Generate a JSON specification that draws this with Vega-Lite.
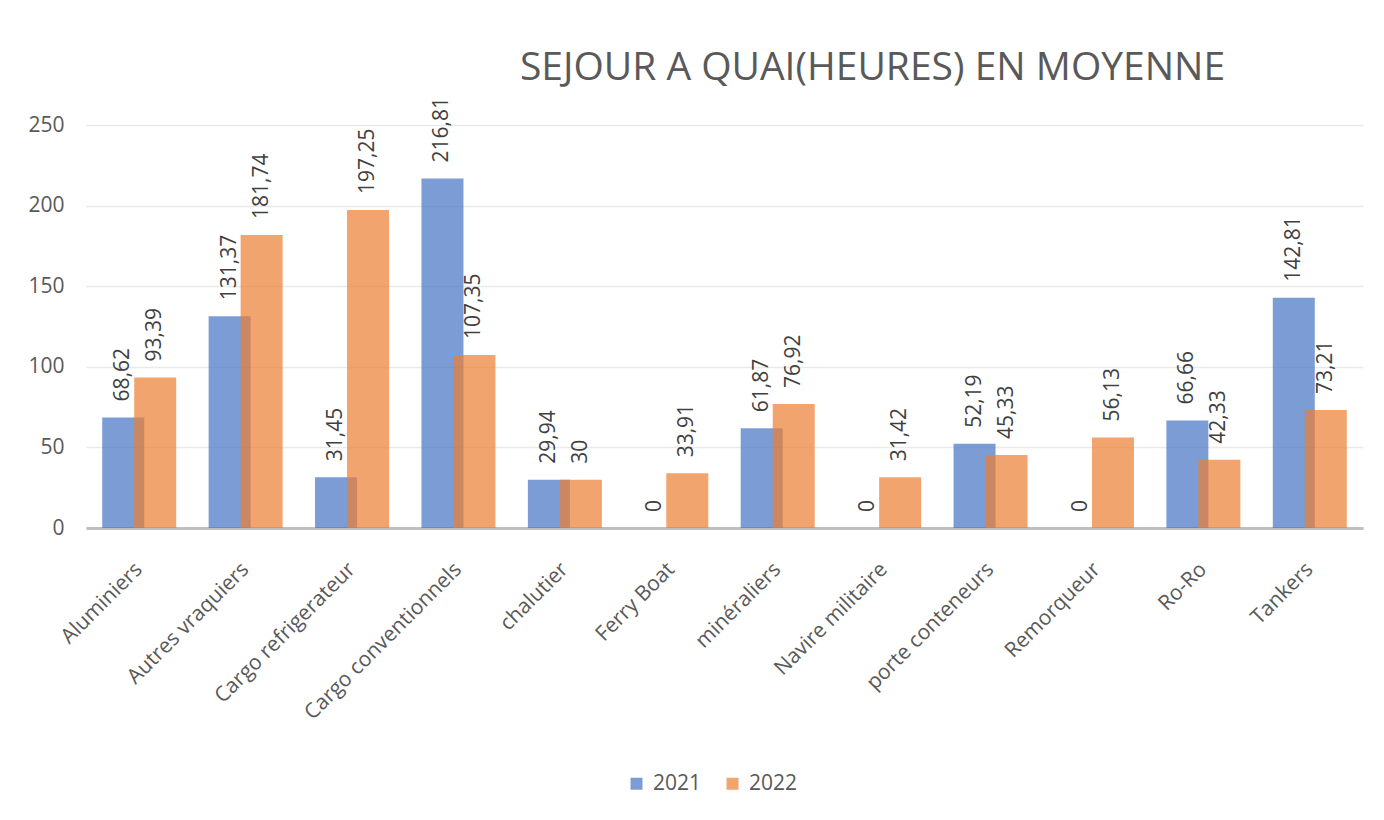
{
  "$schema": "https://vega.github.io/schema/vega-lite/v6.json",
  "autosize": {"type": "none"},
  "width": 1277,
  "height": 403,
  "padding": {"left": 86, "top": 125, "right": 21, "bottom": 292},
  "background": "white",
  "title": {
    "text": "SEJOUR A QUAI(HEURES) EN MOYENNE",
    "anchor": "middle",
    "dx": 148,
    "offset": 9,
    "fontSize": 39,
    "font": "Open Sans",
    "fontWeight": "normal",
    "color": "#595959"
  },
  "data": {
    "values": [
      {"type": "Aluminiers", "year": "2021", "value": 68.62},
      {"type": "Aluminiers", "year": "2022", "value": 93.39},
      {"type": "Autres vraquiers", "year": "2021", "value": 131.37},
      {"type": "Autres vraquiers", "year": "2022", "value": 181.74},
      {"type": "Cargo refrigerateur", "year": "2021", "value": 31.45},
      {"type": "Cargo refrigerateur", "year": "2022", "value": 197.25},
      {"type": "Cargo conventionnels", "year": "2021", "value": 216.81},
      {"type": "Cargo conventionnels", "year": "2022", "value": 107.35},
      {"type": "chalutier", "year": "2021", "value": 29.94},
      {"type": "chalutier", "year": "2022", "value": 30},
      {"type": "Ferry Boat", "year": "2021", "value": 0},
      {"type": "Ferry Boat", "year": "2022", "value": 33.91},
      {"type": "minéraliers", "year": "2021", "value": 61.87},
      {"type": "minéraliers", "year": "2022", "value": 76.92},
      {"type": "Navire militaire", "year": "2021", "value": 0},
      {"type": "Navire militaire", "year": "2022", "value": 31.42},
      {"type": "porte conteneurs", "year": "2021", "value": 52.19},
      {"type": "porte conteneurs", "year": "2022", "value": 45.33},
      {"type": "Remorqueur", "year": "2021", "value": 0},
      {"type": "Remorqueur", "year": "2022", "value": 56.13},
      {"type": "Ro-Ro", "year": "2021", "value": 66.66},
      {"type": "Ro-Ro", "year": "2022", "value": 42.33},
      {"type": "Tankers", "year": "2021", "value": 142.81},
      {"type": "Tankers", "year": "2022", "value": 73.21}
    ]
  },
  "encoding": {
    "x": {
      "field": "type",
      "type": "nominal",
      "sort": null,
      "title": null,
      "scale": {"paddingInner": 0, "paddingOuter": 0},
      "axis": {
        "labelAngle": -45,
        "labelAlign": "right",
        "labelBaseline": "middle",
        "labelFontSize": 21,
        "labelFont": "Open Sans",
        "labelColor": "#595959",
        "labelPadding": 38,
        "labelLimit": 400,
        "ticks": false,
        "domainColor": "#BFBFBF",
        "domainWidth": 3,
        "grid": false
      }
    },
    "y": {
      "field": "value",
      "type": "quantitative",
      "title": null,
      "scale": {"domain": [0, 250], "nice": false},
      "axis": {
        "values": [0, 50, 100, 150, 200, 250],
        "labelFontSize": 21,
        "labelFont": "Open Sans",
        "labelColor": "#595959",
        "labelPadding": 22,
        "ticks": false,
        "domain": false,
        "gridColor": "#EAEAEA",
        "gridWidth": 1.5
      }
    }
  },
  "layer": [
    {
      "transform": [{"filter": "datum.year === '2021'"}],
      "mark": {"type": "bar", "width": 42, "xOffset": -16, "opacity": 0.7},
      "encoding": {
        "color": {
          "field": "year",
          "type": "nominal",
          "title": null,
          "scale": {"domain": ["2021", "2022"], "range": ["#4472C4", "#ED7D31"]},
          "legend": {
            "orient": "none",
            "direction": "horizontal",
            "legendX": 540,
            "legendY": 648,
            "symbolType": "square",
            "symbolSize": 144,
            "symbolOpacity": 0.7,
            "symbolStrokeWidth": 0,
            "labelFontSize": 21,
            "labelFont": "Open Sans",
            "labelColor": "#595959",
            "labelOffset": 6,
            "columnPadding": 20
          }
        }
      }
    },
    {
      "transform": [{"filter": "datum.year === '2022'"}],
      "mark": {"type": "bar", "width": 42, "xOffset": 16, "opacity": 0.7},
      "encoding": {
        "color": {"field": "year", "type": "nominal"}
      }
    },
    {
      "transform": [{"filter": "datum.year === '2021'"}],
      "mark": {"type": "text", "angle": 270, "align": "left", "baseline": "middle", "dx": 16, "xOffset": -16, "fontSize": 21, "font": "Open Sans", "color": "#404040"},
      "encoding": {
        "text": {"field": "value", "type": "quantitative", "format": "~f"}
      }
    },
    {
      "transform": [{"filter": "datum.year === '2022'"}],
      "mark": {"type": "text", "angle": 270, "align": "left", "baseline": "middle", "dx": 16, "xOffset": 16, "fontSize": 21, "font": "Open Sans", "color": "#404040"},
      "encoding": {
        "text": {"field": "value", "type": "quantitative", "format": "~f"}
      }
    }
  ],
  "config": {
    "locale": {
      "number": {"decimal": ",", "thousands": " ", "grouping": [3], "currency": ["", " €"]}
    },
    "view": {"stroke": null},
    "font": "Open Sans"
  }
}
